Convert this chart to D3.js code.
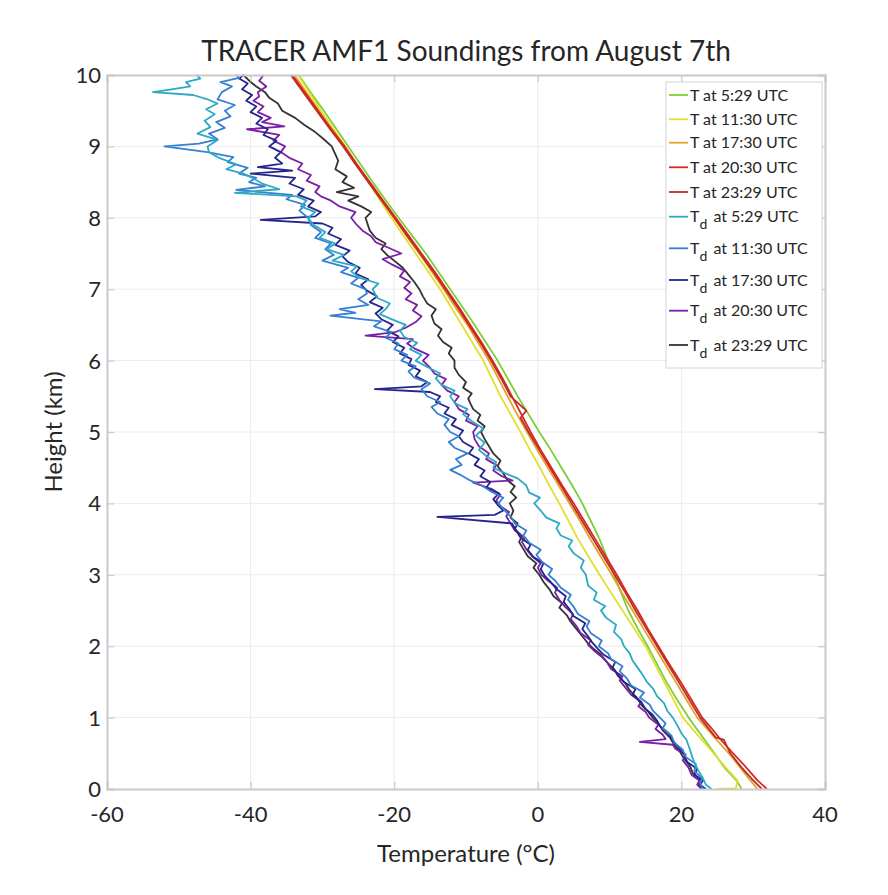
<!DOCTYPE html>
<html>
<head>
<meta charset="utf-8">
<script src="https://cdn.jsdelivr.net/npm/d3@7"></script>
<style>
  html, body { margin: 0; padding: 0; background: #fff; }
  svg { display: block; }
  text { font-family: Lato, "Open Sans", sans-serif; fill: #262626; }
</style>
</head>
<body>
<svg id="chart" width="888" height="895"></svg>
<script>
// ---------------- DATA ----------------
const title = "TRACER AMF1 Soundings from August 7th";
const xLabel = "Temperature (°C)";
const yLabel = "Height (km)";
const xTicks = [-60, -40, -20, 0, 20, 40];
const yTicks = [0, 1, 2, 3, 4, 5, 6, 7, 8, 9, 10];
const xDomain = [-60, 40];
const yDomain = [0, 10];

const seriesNames = ["T at 5:29 UTC", "T at 11:30 UTC", "T at 17:30 UTC", "T at 20:30 UTC", "T at 23:29 UTC",
  "Td at 5:29 UTC", "Td at 11:30 UTC", "Td at 17:30 UTC", "Td at 20:30 UTC", "Td at 23:29 UTC"];
const seriesColors = ["#7ccf3a", "#e4df2c", "#e3a32a", "#d8261f", "#b8302a",
  "#2fa8c6", "#3580d2", "#24248c", "#7a1fa6", "#333333"];

// Each series: [temperature (°C), height (km)]
const T_0529 = [[28.4,0],[27.8,0.1],[27.4,0.15],[26.0,0.3],[24.6,0.5],[22.8,0.75],[21.0,1.0],[19.4,1.25],[17.9,1.5],[16.6,1.75],[15.3,2.0],[13.9,2.25],[12.6,2.5],[11.6,2.75],[10.6,3.0],[9.6,3.25],[8.6,3.5],[7.4,3.75],[6.2,4.0],[4.8,4.25],[3.3,4.5],[1.8,4.75],[0.2,5.0],[-1.3,5.25],[-2.8,5.5],[-4.2,5.75],[-5.6,6.0],[-7.2,6.25],[-8.8,6.5],[-10.5,6.75],[-12.2,7.0],[-13.9,7.25],[-15.6,7.5],[-17.5,7.75],[-19.4,8.0],[-21.2,8.25],[-23.0,8.5],[-24.7,8.75],[-26.4,9.0],[-28.1,9.25],[-29.8,9.5],[-31.6,9.75],[-33.3,10.0]];
const T_1130 = [[24.9,0],[27.6,0.01],[27.8,0.12],[26.2,0.3],[24.5,0.5],[22.3,0.75],[20.2,1.0],[18.9,1.25],[17.6,1.5],[16.3,1.75],[15.0,2.0],[13.4,2.25],[11.8,2.5],[10.2,2.75],[8.6,3.0],[7.1,3.25],[5.6,3.5],[4.3,3.75],[3.0,4.0],[1.6,4.25],[0.3,4.5],[-1.1,4.75],[-2.4,5.0],[-3.8,5.25],[-5.2,5.5],[-6.4,5.75],[-7.6,6.0],[-9.1,6.25],[-10.6,6.5],[-12.1,6.75],[-13.6,7.0],[-15.3,7.25],[-17.0,7.5],[-18.7,7.75],[-20.4,8.0],[-22.0,8.25],[-23.6,8.5],[-25.2,8.75],[-26.8,9.0],[-28.5,9.25],[-30.2,9.5],[-31.8,9.75],[-33.4,10.0]];
const T_1730 = [[30.6,0],[29.6,0.12],[28.2,0.3],[26.6,0.5],[24.8,0.7],[22.2,1.0],[20.7,1.25],[19.2,1.5],[17.7,1.75],[16.2,2.0],[14.7,2.25],[13.2,2.5],[11.7,2.75],[10.3,3.0],[8.8,3.25],[7.3,3.5],[5.9,3.75],[4.4,4.0],[2.9,4.25],[1.4,4.5],[-0.1,4.75],[-1.5,5.0],[-2.9,5.25],[-4.2,5.5],[-5.5,5.75],[-6.8,6.0],[-8.3,6.25],[-9.8,6.5],[-11.5,6.75],[-13.1,7.0],[-14.8,7.25],[-16.5,7.5],[-18.3,7.75],[-20.0,8.0],[-21.7,8.25],[-23.5,8.5],[-25.3,8.75],[-27.0,9.0],[-28.8,9.25],[-30.5,9.5],[-32.2,9.75],[-33.9,10.0]];
const T_2030 = [[31.9,0],[30.6,0.12],[28.6,0.35],[27.0,0.52],[25.4,0.7],[24.2,0.85],[22.9,1.0],[21.4,1.25],[19.9,1.5],[18.3,1.75],[16.8,2.0],[15.3,2.25],[13.9,2.5],[12.4,2.75],[11.0,3.0],[9.5,3.25],[8.0,3.5],[6.5,3.75],[5.0,4.0],[3.4,4.25],[1.9,4.5],[0.4,4.75],[-1.0,5.0],[-2.3,5.25],[-3.6,5.5],[-4.9,5.75],[-6.3,6.0],[-7.8,6.25],[-9.4,6.5],[-11.0,6.75],[-12.7,7.0],[-14.4,7.25],[-16.2,7.5],[-18.0,7.75],[-19.8,8.0],[-21.6,8.25],[-23.4,8.5],[-25.2,8.75],[-26.9,9.0],[-28.8,9.25],[-30.6,9.5],[-32.4,9.75],[-34.2,10.0]];
const T_2329 = [[31.2,0],[30.0,0.12],[28.4,0.3],[26.8,0.5],[25.9,0.69],[24.8,0.72],[22.6,1.0],[21.1,1.25],[19.6,1.5],[18.1,1.75],[16.6,2.0],[15.1,2.25],[13.6,2.5],[12.2,2.75],[10.7,3.0],[9.2,3.25],[7.7,3.5],[6.2,3.75],[4.7,4.0],[3.2,4.25],[1.7,4.5],[0.2,4.75],[-1.3,5.0],[-2.4,5.2],[-1.6,5.3],[-3.8,5.5],[-5.1,5.75],[-6.5,6.0],[-8.0,6.25],[-9.6,6.5],[-11.2,6.75],[-12.9,7.0],[-14.6,7.25],[-16.4,7.5],[-18.2,7.75],[-20.0,8.0],[-21.8,8.25],[-23.6,8.5],[-25.4,8.75],[-27.1,9.0],[-29.0,9.25],[-30.8,9.5],[-32.6,9.75],[-34.4,10.0]];

const Td_0529 = [[24.2,0],[23.4,0.06],[23.0,0.15],[22.4,0.25],[21.9,0.35],[21.5,0.45],[21.2,0.55],[20.7,0.69],[20.0,0.78],[19.5,0.88],[18.8,1.0],[18.0,1.1],[17.6,1.2],[16.6,1.3],[16.1,1.4],[15.2,1.5],[14.6,1.6],[13.9,1.7],[13.2,1.8],[12.8,1.9],[12.0,2.0],[11.6,2.1],[10.6,2.2],[10.9,2.3],[9.5,2.4],[8.8,2.5],[9.4,2.56],[7.8,2.65],[8.2,2.75],[7.0,2.85],[6.7,3.0],[6.0,3.1],[6.4,3.2],[5.0,3.3],[4.3,3.4],[4.8,3.48],[3.2,3.55],[2.6,3.65],[3.0,3.72],[1.2,3.8],[0.4,3.9],[-0.5,4.0],[0.3,4.08],[-1.2,4.15],[-1.6,4.25],[-2.8,4.35],[-4.5,4.42],[-6.2,4.5],[-5.8,4.58],[-7.0,4.65],[-8.2,4.75],[-7.4,4.85],[-8.6,4.95],[-7.6,5.05],[-9.2,5.15],[-10.4,5.25],[-9.8,5.32],[-11.5,5.4],[-12.2,5.5],[-11.6,5.58],[-13.4,5.66],[-14.2,5.75],[-13.6,5.82],[-15.2,5.9],[-17.0,6.0],[-16.2,6.08],[-17.8,6.16],[-16.8,6.25],[-18.6,6.33],[-19.2,6.42],[-18.4,6.5],[-20.4,6.58],[-22.0,6.65],[-21.2,6.72],[-20.6,6.8],[-22.4,6.88],[-23.0,7.0],[-22.2,7.08],[-24.8,7.16],[-26.0,7.25],[-25.2,7.32],[-28.6,7.4],[-27.0,7.48],[-29.4,7.56],[-28.2,7.64],[-30.4,7.72],[-29.6,7.8],[-31.2,7.9],[-32.0,8.0],[-31.0,8.08],[-33.0,8.16],[-32.2,8.24],[-33.6,8.3],[-42.2,8.35],[-36.0,8.4],[-38.4,8.48],[-39.8,8.56],[-41.0,8.62],[-43.4,8.68],[-42.0,8.75],[-44.4,8.84],[-45.8,8.92],[-46.0,9.0],[-44.6,9.09],[-47.4,9.18],[-45.6,9.27],[-46.4,9.36],[-45.0,9.45],[-46.2,9.52],[-44.6,9.6],[-46.0,9.66],[-48.0,9.72],[-53.6,9.76],[-51.0,9.8],[-48.4,9.84],[-49.0,9.9],[-47.0,9.95],[-47.5,10.0]];
const Td_1130 = [[23.0,0],[22.6,0.08],[22.9,0.15],[21.8,0.25],[22.0,0.35],[20.6,0.45],[20.2,0.55],[19.0,0.65],[18.6,0.75],[17.4,0.85],[17.8,0.92],[17.0,1.0],[16.0,1.1],[15.6,1.18],[14.2,1.28],[14.8,1.35],[13.0,1.45],[12.4,1.55],[11.4,1.65],[11.8,1.72],[10.2,1.82],[9.8,1.9],[8.5,2.0],[8.9,2.08],[7.4,2.18],[6.8,2.28],[7.2,2.35],[5.6,2.45],[5.0,2.55],[4.2,2.65],[4.6,2.72],[3.2,2.82],[2.4,2.92],[1.5,3.0],[2.0,3.08],[0.6,3.18],[-0.2,3.28],[0.4,3.35],[-1.2,3.45],[-2.0,3.55],[-1.6,3.62],[-3.2,3.72],[-3.8,3.82],[-4.6,3.9],[-5.5,4.0],[-4.8,4.08],[-6.4,4.16],[-7.8,4.25],[-9.6,4.33],[-10.8,4.4],[-12.2,4.47],[-10.6,4.54],[-11.4,4.62],[-9.8,4.7],[-11.6,4.78],[-12.4,4.86],[-11.0,4.94],[-12.2,5.0],[-13.0,5.1],[-12.4,5.18],[-14.0,5.26],[-14.8,5.35],[-13.6,5.42],[-15.4,5.5],[-16.2,5.6],[-15.0,5.68],[-17.2,5.76],[-18.0,5.85],[-17.0,5.92],[-19.0,6.0],[-18.2,6.08],[-20.0,6.16],[-19.4,6.24],[-21.2,6.32],[-20.4,6.4],[-22.8,6.48],[-21.8,6.55],[-28.9,6.63],[-25.4,6.67],[-27.6,6.72],[-23.6,6.78],[-25.0,6.86],[-23.8,6.94],[-24.0,7.0],[-26.0,7.08],[-25.0,7.16],[-27.4,7.24],[-26.4,7.3],[-30.0,7.4],[-28.4,7.48],[-29.6,7.56],[-28.8,7.64],[-31.0,7.72],[-30.2,7.8],[-31.6,7.9],[-32.0,8.0],[-33.2,8.1],[-32.4,8.18],[-35.0,8.26],[-34.2,8.32],[-42.0,8.39],[-38.0,8.44],[-40.2,8.5],[-39.2,8.56],[-41.6,8.62],[-40.4,8.7],[-43.2,8.78],[-42.4,8.85],[-46.0,8.92],[-52.0,9.0],[-47.2,9.04],[-44.6,9.1],[-45.8,9.18],[-43.6,9.26],[-44.8,9.34],[-42.8,9.42],[-43.6,9.5],[-42.2,9.58],[-44.6,9.66],[-44.0,9.76],[-42.6,9.84],[-44.2,9.9],[-41.6,9.96],[-42.0,10.0]];
const Td_1730 = [[23.4,0],[22.6,0.06],[23.0,0.12],[21.8,0.2],[22.2,0.28],[20.8,0.38],[20.4,0.48],[19.6,0.58],[18.8,0.68],[18.2,0.78],[17.0,0.88],[16.6,0.96],[16.0,1.04],[15.0,1.12],[14.4,1.22],[13.2,1.32],[13.6,1.4],[12.0,1.5],[11.2,1.6],[10.4,1.7],[10.8,1.78],[9.2,1.88],[8.4,1.96],[7.6,2.05],[7.0,2.14],[6.2,2.24],[6.6,2.32],[5.0,2.42],[4.4,2.52],[3.6,2.62],[3.9,2.7],[2.6,2.8],[1.8,2.9],[1.0,2.98],[0.4,3.08],[0.8,3.16],[-0.6,3.25],[-1.4,3.35],[-1.0,3.42],[-2.4,3.52],[-3.0,3.62],[-3.6,3.72],[-14.0,3.81],[-6.0,3.84],[-4.8,3.9],[-5.6,3.98],[-6.2,4.06],[-5.4,4.14],[-7.2,4.22],[-6.6,4.3],[-8.0,4.38],[-7.4,4.46],[-8.8,4.54],[-8.2,4.62],[-9.6,4.7],[-9.0,4.78],[-10.4,4.86],[-11.0,4.94],[-10.4,5.02],[-12.0,5.1],[-11.4,5.18],[-13.0,5.26],[-12.4,5.34],[-14.2,5.42],[-13.6,5.5],[-15.0,5.56],[-22.7,5.6],[-16.2,5.64],[-15.4,5.7],[-17.0,5.78],[-16.4,5.86],[-18.0,5.94],[-17.6,6.02],[-19.2,6.1],[-18.6,6.18],[-20.2,6.26],[-19.4,6.34],[-21.0,6.42],[-20.2,6.5],[-21.8,6.58],[-22.6,6.66],[-21.6,6.74],[-23.4,6.82],[-22.4,6.9],[-23.8,6.98],[-24.6,7.06],[-23.6,7.14],[-25.4,7.22],[-24.8,7.3],[-26.4,7.38],[-27.2,7.46],[-26.2,7.54],[-28.2,7.62],[-27.4,7.7],[-29.2,7.78],[-28.6,7.86],[-30.0,7.92],[-38.6,7.97],[-31.0,8.02],[-30.2,8.08],[-32.0,8.16],[-31.2,8.24],[-33.4,8.32],[-32.6,8.4],[-34.6,8.48],[-33.8,8.56],[-40.0,8.62],[-34.2,8.66],[-39.0,8.71],[-35.6,8.76],[-36.6,8.84],[-35.8,8.92],[-37.4,9.0],[-36.4,9.08],[-38.2,9.16],[-37.6,9.24],[-39.2,9.32],[-38.4,9.4],[-40.0,9.48],[-39.2,9.56],[-40.6,9.64],[-39.8,9.72],[-41.2,9.8],[-40.4,9.88],[-41.6,9.95],[-41.0,10.0]];
const Td_2030 = [[22.8,0],[22.2,0.06],[22.5,0.12],[21.4,0.2],[21.0,0.3],[20.2,0.4],[20.6,0.48],[19.2,0.56],[18.8,0.62],[14.2,0.66],[17.8,0.7],[17.4,0.76],[16.4,0.84],[16.8,0.9],[15.5,1.0],[15.0,1.08],[14.0,1.16],[14.4,1.22],[13.0,1.32],[12.2,1.42],[11.4,1.52],[11.8,1.58],[10.2,1.68],[9.6,1.78],[8.8,1.86],[7.8,1.94],[7.0,2.02],[7.4,2.08],[6.0,2.18],[5.4,2.28],[4.6,2.38],[4.9,2.45],[3.8,2.55],[3.0,2.65],[2.4,2.75],[2.7,2.82],[1.4,2.92],[0.5,3.0],[0.0,3.1],[0.4,3.16],[-0.8,3.26],[-1.6,3.36],[-2.2,3.46],[-1.8,3.52],[-3.2,3.62],[-3.8,3.72],[-4.4,3.82],[-4.0,3.88],[-5.2,3.96],[-5.8,4.04],[-5.2,4.12],[-6.4,4.2],[-9.0,4.29],[-3.5,4.32],[-5.0,4.38],[-6.2,4.46],[-5.8,4.54],[-7.2,4.62],[-6.8,4.7],[-8.2,4.8],[-8.8,4.9],[-9.0,5.0],[-8.4,5.08],[-10.0,5.16],[-9.6,5.24],[-11.0,5.32],[-11.6,5.42],[-11.0,5.5],[-12.6,5.58],[-13.4,5.66],[-12.8,5.74],[-14.4,5.82],[-15.0,5.9],[-16.0,6.0],[-15.2,6.08],[-17.0,6.16],[-18.2,6.24],[-17.4,6.3],[-24.0,6.35],[-19.8,6.4],[-18.4,6.46],[-17.0,6.54],[-16.2,6.62],[-17.4,6.7],[-16.8,6.78],[-18.4,6.86],[-17.6,6.94],[-18.6,7.02],[-17.8,7.1],[-19.2,7.18],[-18.6,7.26],[-20.2,7.34],[-21.6,7.42],[-19.0,7.5],[-20.8,7.58],[-22.6,7.66],[-23.2,7.74],[-24.4,7.82],[-25.2,7.9],[-26.0,8.0],[-25.4,8.08],[-27.6,8.16],[-28.8,8.24],[-30.2,8.3],[-31.0,8.36],[-30.4,8.44],[-32.2,8.52],[-31.6,8.6],[-33.4,8.68],[-32.8,8.76],[-34.6,8.84],[-35.8,8.92],[-35.2,9.0],[-36.8,9.08],[-36.0,9.16],[-40.5,9.24],[-35.3,9.28],[-38.4,9.34],[-37.2,9.4],[-39.0,9.48],[-38.2,9.56],[-39.6,9.64],[-38.8,9.7],[-39.0,9.76],[-37.8,9.84],[-38.8,9.92],[-38.2,10.0]];
const Td_2329 = [[23.0,0],[22.4,0.06],[22.8,0.12],[21.6,0.22],[21.2,0.32],[20.4,0.42],[19.8,0.52],[19.0,0.62],[18.4,0.72],[17.4,0.82],[16.8,0.92],[16.0,1.0],[15.4,1.08],[14.4,1.18],[13.8,1.28],[12.8,1.38],[12.2,1.48],[11.2,1.58],[10.6,1.68],[9.6,1.78],[8.8,1.88],[7.8,1.96],[7.0,2.04],[6.2,2.14],[5.4,2.24],[4.6,2.34],[4.0,2.44],[3.0,2.54],[3.4,2.6],[2.2,2.7],[1.6,2.8],[0.8,2.9],[0.2,3.0],[-0.6,3.1],[-0.2,3.16],[-1.4,3.26],[-2.0,3.36],[-2.6,3.46],[-2.2,3.54],[-3.2,3.64],[-2.8,3.72],[-3.8,3.8],[-3.4,3.9],[-3.9,4.0],[-3.0,4.08],[-3.8,4.16],[-3.2,4.24],[-4.2,4.32],[-4.8,4.42],[-5.6,4.52],[-5.2,4.6],[-6.2,4.7],[-6.8,4.8],[-7.4,4.9],[-7.9,5.0],[-7.4,5.08],[-8.4,5.16],[-8.0,5.24],[-9.0,5.32],[-9.4,5.4],[-9.7,5.47],[-9.2,5.54],[-10.4,5.62],[-10.0,5.7],[-11.0,5.8],[-11.6,5.9],[-11.6,6.0],[-12.4,6.1],[-12.0,6.18],[-13.2,6.26],[-13.9,6.35],[-13.4,6.44],[-14.4,6.52],[-14.8,6.63],[-14.2,6.72],[-15.4,6.8],[-16.0,6.9],[-16.5,7.0],[-17.2,7.1],[-18.0,7.2],[-18.8,7.3],[-20.0,7.4],[-21.0,7.48],[-21.8,7.56],[-21.2,7.64],[-22.6,7.72],[-23.4,7.82],[-24.0,8.0],[-23.2,8.08],[-24.6,8.16],[-26.4,8.24],[-25.0,8.3],[-28.0,8.36],[-25.6,8.42],[-27.2,8.5],[-26.6,8.58],[-28.2,8.68],[-27.8,8.8],[-28.7,9.0],[-29.8,9.1],[-31.0,9.2],[-32.5,9.3],[-33.8,9.4],[-35.6,9.5],[-36.2,9.6],[-37.4,9.68],[-38.0,9.76],[-39.2,9.84],[-40.2,9.92],[-41.0,10.0]];

const seriesData = [T_0529, T_1130, T_1730, T_2030, T_2329, Td_0529, Td_1130, Td_1730, Td_2030, Td_2329];

// ---------------- CHART ----------------
const svg = d3.select("#chart");
const plot = { left: 107, right: 825, top: 75, bottom: 789 };
const x = d3.scaleLinear().domain(xDomain).range([plot.left, plot.right]);
const y = d3.scaleLinear().domain(yDomain).range([plot.bottom, plot.top]);

// grid
const grid = svg.append("g");
grid.selectAll("line.gx").data(xTicks.slice(1, -1)).join("line")
  .attr("x1", d => x(d)).attr("x2", d => x(d)).attr("y1", plot.top).attr("y2", plot.bottom)
  .attr("stroke", "#ececec").attr("stroke-width", 1);
grid.selectAll("line.gy").data(yTicks.slice(1, -1)).join("line")
  .attr("x1", plot.left).attr("x2", plot.right).attr("y1", d => y(d)).attr("y2", d => y(d))
  .attr("stroke", "#ececec").attr("stroke-width", 1);

// data lines
svg.append("defs").append("clipPath").attr("id", "clip")
  .append("rect").attr("x", plot.left).attr("y", plot.top - 1)
  .attr("width", plot.right - plot.left).attr("height", plot.bottom - plot.top + 1);
const line = d3.line().x(d => x(d[0])).y(d => y(d[1]));
const lines = svg.append("g").attr("clip-path", "url(#clip)");
// draw Td first (back) then T
const order = [9, 8, 7, 6, 5, 0, 1, 2, 4, 3];
order.forEach(i => {
  lines.append("path").datum(seriesData[i])
    .attr("d", line).attr("fill", "none")
    .attr("stroke", seriesColors[i]).attr("stroke-width", 1.8)
    .attr("stroke-linejoin", "round");
});

// axes (MATLAB-like box with inward ticks)
const axisColor = "#c9c9c9";
const xAxisB = d3.axisBottom(x).tickValues(xTicks).tickSize(-7).tickFormat("");
const xAxisT = d3.axisTop(x).tickValues(xTicks).tickSize(-7).tickFormat("");
const yAxisL = d3.axisLeft(y).tickValues(yTicks).tickSize(-7).tickFormat("");
const yAxisR = d3.axisRight(y).tickValues(yTicks).tickSize(-7).tickFormat("");
[[xAxisB, `translate(0,${plot.bottom})`], [xAxisT, `translate(0,${plot.top})`],
 [yAxisL, `translate(${plot.left},0)`], [yAxisR, `translate(${plot.right},0)`]].forEach(([ax, tr]) => {
  const g = svg.append("g").attr("transform", tr).call(ax);
  g.select(".domain").attr("stroke", axisColor).attr("stroke-width", 2);
  g.selectAll(".tick line").attr("stroke", axisColor).attr("stroke-width", 1.2);
});

// tick labels
svg.append("g").selectAll("text").data(xTicks).join("text")
  .attr("x", d => x(d)).attr("y", 822)
  .attr("text-anchor", "middle").attr("font-size", 22)
  .text(d => d);
svg.append("g").selectAll("text").data(yTicks).join("text")
  .attr("x", 101).attr("y", d => y(d) + 8)
  .attr("text-anchor", "end").attr("font-size", 22)
  .text(d => d);

// title & axis labels
svg.append("text").attr("x", (plot.left + plot.right) / 2).attr("y", 61)
  .attr("text-anchor", "middle").attr("font-size", 28).text(title);
svg.append("text").attr("x", (plot.left + plot.right) / 2).attr("y", 862)
  .attr("text-anchor", "middle").attr("font-size", 24).text(xLabel);
svg.append("text").attr("transform", `translate(62,${(plot.top + plot.bottom) / 2}) rotate(-90)`)
  .attr("text-anchor", "middle").attr("font-size", 24).text(yLabel);

// legend
const leg = svg.append("g");
const legRowY = [95, 119.3, 142.7, 167.3, 192, 216.7, 248.3, 280, 310.7, 345];
leg.append("rect").attr("x", 666).attr("y", 82).attr("width", 156).attr("height", 286)
  .attr("fill", "#fff").attr("stroke", "#d4d4d4").attr("stroke-width", 1);
seriesNames.forEach((name, i) => {
  const yy = legRowY[i];
  leg.append("line").attr("x1", 669).attr("x2", 688).attr("y1", yy).attr("y2", yy)
    .attr("stroke", seriesColors[i]).attr("stroke-width", 1.8);
  const t = leg.append("text").attr("x", 690).attr("y", yy + 5.5).attr("font-size", 16);
  if (name.startsWith("Td")) {
    t.append("tspan").text("T");
    t.append("tspan").attr("dy", 7).attr("font-size", 14).text("d");
    t.append("tspan").attr("dx", 2).attr("dy", -7).text(name.slice(2));
  } else {
    t.text(name);
  }
});
</script>
</body>
</html>
